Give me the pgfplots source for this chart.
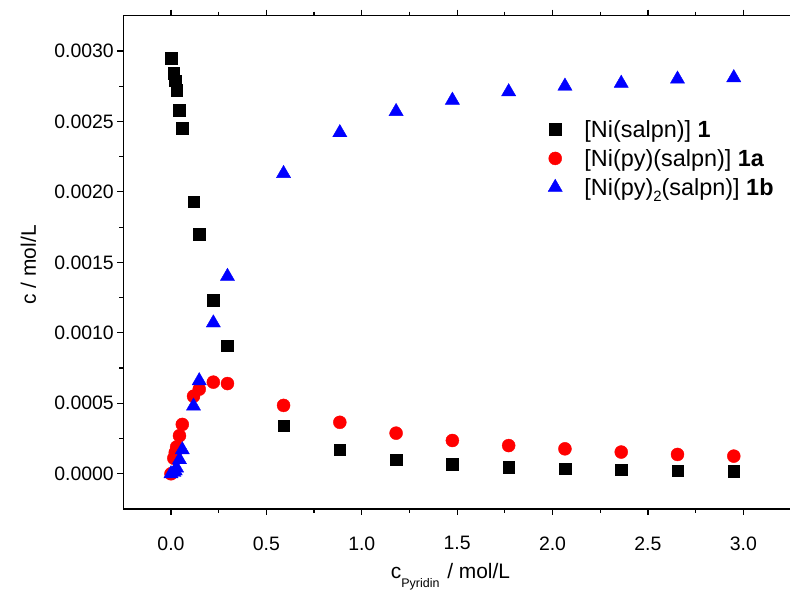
\documentclass[border=0pt]{standalone}
\usepackage{fontspec}
\setmainfont{Liberation Sans}
\usepackage{pgfplots}
\pgfplotsset{compat=1.18}
\newcommand\lowsub[3]{\raisebox{-#2}{\fontsize{#1}{#1}\selectfont #3}}
\begin{document}
\begin{tikzpicture}[x=1bp,y=1bp]
\useasboundingbox (0,0) rectangle (790,590);
\begin{axis}[
  at={(123.3bp,81bp)}, anchor=south west,
  scale only axis, width=667.7bp, height=493.3bp,
  xmin=-0.25, xmax=3.25, ymin=-0.00025, ymax=0.00325,
  xtick={0,0.5,...,3.0}, minor x tick num=1,
  ytick={0,0.0005,...,0.0030}, minor y tick num=1,
  tick align=outside, major tick length=6bp, minor tick length=4bp,
  axis line style={line width=1.2bp}, every tick/.style={line width=1.2bp, black},
  scaled y ticks=false, scaled x ticks=false,
  xticklabel style={yshift=-18bp, /pgf/number format/.cd, fixed, fixed zerofill, precision=1, assume math mode=true},
  yticklabel style={/pgf/number format/.cd, fixed, fixed zerofill, precision=4, assume math mode=true},
  tick label style={font=\fontsize{19.5}{22}\selectfont},
  label style={font=\fontsize{21}{24}\selectfont},
  xlabel={c\lowsub{12.5}{9bp}{Pyridin}\hspace{2bp} / mol/L},
  ylabel={c / mol/L},
  xlabel style={at={(axis description cs:0.49,-0.138)}, anchor=center},
  ylabel style={at={(axis description cs:-0.142,0.495)}, anchor=center, rotate=0},
  legend style={draw=none, fill=none, inner sep=0pt, outer sep=0pt,
    at={(axis description cs:0.6346,0.7938)}, anchor=north west,
    font=\fontsize{23.5}{28}\selectfont, row sep=5bp,
    nodes={inner sep=0pt, text height=20bp, text depth=4bp}},
  legend cell align=left,
  legend image code/.code={\path (-8bp,0bp) (29bp,0bp); \draw[#1] plot coordinates {(0bp,0bp)};},
]
\addplot[only marks, mark=square*, mark size=5.8bp, black, mark options={fill=black}] coordinates {
(0,0.00295)(0.0148,0.00284)(0.0222,0.00279)(0.0296,0.00272)(0.0444,0.00258)(0.0592,0.00245)
(0.118,0.00193)(0.148,0.0017)(0.222,0.00123)(0.296,0.00091)(0.59,0.00034)(0.885,0.00017)
(1.18,0.0001)(1.475,0.000069)(1.77,0.000048)(2.065,0.000036)(2.36,0.000028)(2.655,0.000021)(2.95,0.000017)};
\addlegendentry{[Ni(salpn)] \textbf{1}}
\addplot[only marks, mark=*, mark size=6.5bp, red, mark options={fill=red, draw=red}] coordinates {
(0,0)(0.0148,0.00011)(0.0222,0.00015)(0.0296,0.00019)(0.0444,0.00027)(0.0592,0.00035)
(0.118,0.00055)(0.148,0.0006)(0.222,0.00065)(0.296,0.00064)(0.59,0.000485)(0.885,0.000365)
(1.18,0.000288)(1.475,0.000236)(1.77,0.0002)(2.065,0.000177)(2.36,0.000154)(2.655,0.000137)(2.95,0.000125)};
\addlegendentry{[Ni(py)(salpn)] \textbf{1a}}
\addplot[only marks, mark=triangle*, mark size=8.2bp, blue, mark options={fill=blue, draw=blue}] coordinates {
(0,0)(0.0148,0.00001)(0.0222,0.00002)(0.0296,0.00004)(0.0444,0.0001)(0.0592,0.00017)
(0.118,0.00048)(0.148,0.00066)(0.222,0.00107)(0.296,0.0014)(0.59,0.00213)(0.885,0.00242)
(1.18,0.00257)(1.475,0.00265)(1.77,0.00271)(2.065,0.00275)(2.36,0.00277)(2.655,0.0028)(2.95,0.00281)};
\addlegendentry{[Ni(py)\lowsub{15}{6bp}{2}(salpn)] \textbf{1b}}
\end{axis}
\end{tikzpicture}
\end{document}
